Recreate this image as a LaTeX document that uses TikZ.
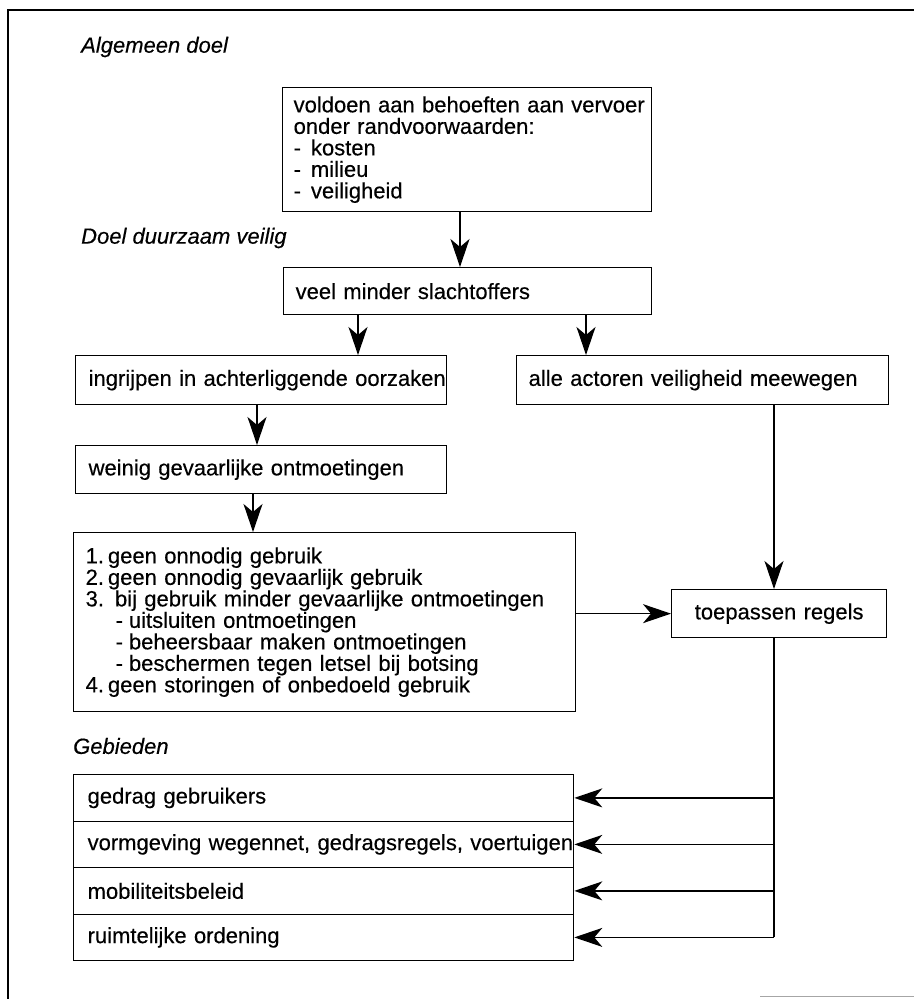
\documentclass[tikz,border=0pt]{standalone}
\usepackage{fontspec}
\setmainfont{Liberation Sans}[FakeBold=0.35]
\usetikzlibrary{arrows.meta}
\begin{document}
\begin{tikzpicture}[x=1pt,y=-1pt,
  box/.style={draw, line width=1.3pt, anchor=north west, align=left,
    inner xsep=12pt, inner ysep=0pt, font=\fontsize{22}{21.5}\selectfont},
  lbl/.style={anchor=west, inner sep=0pt, font=\fontsize{22}{22}\selectfont\itshape},
  arr/.style={line width=1.3pt, -{Stealth[length=28pt,width=19pt,inset=8pt]}},
  link/.style={line width=1.3pt}]
\useasboundingbox (0,0) rectangle (914,999);

% outer frame
\draw[line width=1.8pt] (8,999) -- (8,10) -- (914,10);
\draw[black!35, line width=1pt] (760,996) -- (914,996);

% section headings
\node[lbl] (hgen) at (81,47) {Algemeen doel};
\node[lbl] (hdv) at (81,238) {Doel duurzaam veilig};
\node[lbl] (hgeb) at (73,746) {Gebieden};

% goal chain
\node[box, inner xsep=11pt, text width=347pt, minimum height=124pt] (goal) at (282,87)
  {\mbox{voldoen aan behoeften aan vervoer}\\onder randvoorwaarden:\\
   -\hspace{10pt}kosten\\-\hspace{10pt}milieu\\-\hspace{10pt}veiligheid};
\node[box, text width=344pt, minimum height=47pt] (veel) at (283,267) {veel minder slachtoffers};
\node[box, inner xsep=13pt, text width=345pt, minimum height=49pt] (ingr) at (75,355)
  {\mbox{ingrijpen in achterliggende oorzaken}};
\node[box, text width=348pt, minimum height=49pt] (alle) at (516,355) {alle actoren veiligheid meewegen};
\node[box, inner xsep=13pt, text width=345pt, minimum height=48pt] (wein) at (75,445) {weinig gevaarlijke ontmoetingen};
\node[box, text width=478pt, minimum height=179pt] (list) at (73,532)
  {1.\hspace{4pt}geen onnodig gebruik\\
   2.\hspace{4pt}geen onnodig gevaarlijk gebruik\\
   \mbox{3. bij gebruik minder gevaarlijke ontmoetingen}\\
   \hspace{30pt}-\hspace{6pt}uitsluiten ontmoetingen\\
   \hspace{30pt}-\hspace{6pt}beheersbaar maken ontmoetingen\\
   \hspace{30pt}-\hspace{6pt}beschermen tegen letsel bij botsing\\
   4.\hspace{4pt}geen storingen of onbedoeld gebruik};
\node[box, align=center, text width=191pt, minimum height=48pt] (toep) at (671,589) {toepassen regels};

% areas
\node[box, inner xsep=14pt, text width=472pt, minimum height=46.5pt] (r1) at (73,774) {gedrag gebruikers};
\node[box, inner xsep=14pt, text width=472pt, minimum height=46.5pt] (r2) at (73,820.5)
  {\mbox{vormgeving wegennet, gedragsregels, voertuigen}};
\node[box, inner xsep=14pt, text width=472pt, minimum height=46.5pt] (r3) at (73,867) {mobiliteitsbeleid};
\node[box, inner xsep=14pt, text width=472pt, minimum height=46.5pt] (r4) at (73,913.5) {ruimtelijke ordening};

% connector columns
\coordinate (xa) at (460,0);
\coordinate (xb) at (358,0);
\coordinate (xc) at (586,0);
\coordinate (xd) at (257,0);
\coordinate (xe) at (253,0);
\coordinate (xt) at (774,0);

\draw[arr] (goal.south -| xa) -- (veel.north -| xa);
\draw[arr] (veel.south -| xb) -- (ingr.north -| xb);
\draw[arr] (veel.south -| xc) -- (alle.north -| xc);
\draw[arr] (ingr.south -| xd) -- (wein.north -| xd);
\draw[arr] (wein.south -| xe) -- (list.north -| xe);
\draw[arr] (alle.south -| xt) -- (toep.north -| xt);
\draw[arr] (list.east |- toep.west) -- (toep.west);
\draw[link] (toep.south -| xt) -- (xt |- r4.east);
\foreach \r in {r1,r2,r3,r4}
  \draw[arr] (xt |- \r.east) -- (\r.east);
\end{tikzpicture}
\end{document}
